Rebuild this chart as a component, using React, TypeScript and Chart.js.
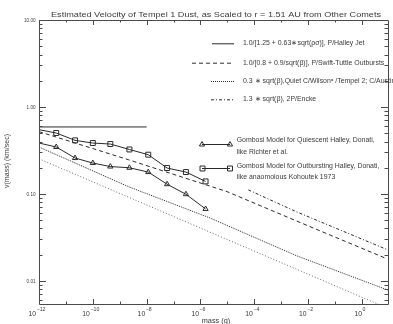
import React, { useEffect, useRef } from 'react';
import { Chart, registerables } from 'chart.js';

Chart.register(...registerables);

const P = (e: number) => Math.pow(10, e);

// axis ranges
const X_MIN = 1e-12;
const X_MAX = P(0.97);
const Y_MIN = 0.0054;
const Y_MAX = 10;

// tick definitions
const yTickValues = [10, 1, 0.1, 0.01];
const yTickLabels = ['10.00', '1.00', '0.10', '0.01'];
const xMajorExponents = [-12, -10, -8, -6, -4, -2, 0];
const xMinorExponents = [-11, -9, -7, -5, -3, -1];

// P/Halley jet (solid)
const jetMass = [1e-12, 1e-8];
const jetVel = [0.588, 0.588];

// P/Swift-Tuttle outbursts (dashed)
const swiftMass = [1e-12, P(-8.68), P(-5.01), P(-2.45), P(0.91)];
const swiftVel = [0.519, 0.247, 0.106, 0.049, 0.018];

// Quiet C/Wilson (dotted, dense)
const quietMass = [1e-12, P(-8.68), P(-5.63), P(-2.45), P(0.97)];
const quietVel = [0.346, 0.121, 0.0525, 0.0195, 0.0078];

// second dotted line (light)
const quiet2Mass = [1e-12, P(0.97)];
const quiet2Vel = [0.253, 0.0048];

// 2P/Encke (dash-dot)
const enckeMass = [P(-4.22), P(-2.45), P(0.97)];
const enckeVel = [0.111, 0.0625, 0.0226];

// Gombosi models
const gombosiMass = [1e-12, P(-11.36), P(-10.66), P(-10.0), P(-9.35), P(-8.64), P(-7.94), P(-7.24), P(-6.54), P(-5.81)];
const quiescentVel = [0.384, 0.346, 0.258, 0.226, 0.206, 0.1995, 0.178, 0.129, 0.099, 0.067];
const outburstVel = [0.547, 0.501, 0.412, 0.384, 0.374, 0.324, 0.282, 0.198, 0.178, 0.139];

const TITLE = 'Estimated Velocity of Tempel 1 Dust, as Scaled to r = 1.51 AU from Other Comets';
const X_TITLE = 'mass (g)';
const Y_TITLE = 'v(mass) (km/sec)';
const legendLabels = [
  '1.0/[1.25 + 0.63\u2217sqrt(\u03C1\u03C3)], P/Halley Jet',
  '1.0/[0.8 + 0.9/sqrt(\u03B2)], P/Swift-Tuttle Outbursts',
  '0.3 \u2217 sqrt(\u03B2),Quiet C/Wilson\u1D43 /Tempel 2; C/Austin',
  '1.3 \u2217 sqrt(\u03B2), 2P/Encke',
];
const gombosiLabels = [
  ['Gombosi Model for Quiescent Halley, Donati,', 'like Richter et al.'],
  ['Gombosi Model for Outbursting Halley, Donati,', 'like anaomolous Kohoutek 1973'],
];

const FAMILY = '"Liberation Sans", Arial, sans-serif';
const INK = '#3a3a3a';
const LINE = '#2a2a2a';

const zip = (xs: number[], ys: number[]) => xs.map((x, i) => ({ x, y: ys[i] }));

function textW(ctx: CanvasRenderingContext2D, t: string, size: number) {
  ctx.font = `${size}px ${FAMILY}`;
  return ctx.measureText(t).width;
}

function drawText(
  ctx: CanvasRenderingContext2D,
  t: string,
  x: number,
  y: number,
  size: number,
  align: 'left' | 'center' | 'right',
  sx = 1,
) {
  ctx.save();
  ctx.font = `${size}px ${FAMILY}`;
  ctx.textBaseline = 'middle';
  ctx.textAlign = 'left';
  const w = ctx.measureText(t).width * sx;
  const x0 = align === 'left' ? x : align === 'center' ? x - w / 2 : x - w;
  ctx.translate(x0, y);
  ctx.scale(sx, 1);
  ctx.fillStyle = INK;
  ctx.fillText(t, 0, 0);
  ctx.restore();
}

function tri(ctx: CanvasRenderingContext2D, x: number, y: number, r: number) {
  let rad = 0;
  ctx.beginPath();
  ctx.moveTo(x + Math.sin(rad) * r, y - Math.cos(rad) * r);
  rad += (2 * Math.PI) / 3;
  ctx.lineTo(x + Math.sin(rad) * r, y - Math.cos(rad) * r);
  rad += (2 * Math.PI) / 3;
  ctx.lineTo(x + Math.sin(rad) * r, y - Math.cos(rad) * r);
  ctx.closePath();
  ctx.stroke();
}

function sq(ctx: CanvasRenderingContext2D, x: number, y: number, r: number) {
  const s = Math.SQRT1_2 * r;
  ctx.beginPath();
  ctx.rect(x - s, y - s, 2 * s, 2 * s);
  ctx.stroke();
}

const DASH = [4, 3];
const DOT = [1, 1];
const DOT_LIGHT = [1, 2];
const DASHDOT = [3, 2, 1, 2];

const framePlugin = {
  id: 'idlFrame',
  afterDraw(chart: any) {
    const ctx: CanvasRenderingContext2D = chart.ctx;
    const a = chart.chartArea;
    const xs = chart.scales.x;
    const ys = chart.scales.y;
    ctx.save();
    ctx.strokeStyle = '#4a4a4a';
    ctx.lineWidth = 1;
    ctx.setLineDash([]);
    // box
    ctx.beginPath();
    ctx.moveTo(a.left + 0.5, a.top + 0.5);
    ctx.lineTo(a.left + 0.5, a.bottom + 0.5);
    ctx.lineTo(a.right + 0.5, a.bottom + 0.5);
    ctx.moveTo(a.left + 0.5, a.top + 0.5);
    ctx.lineTo(a.right + 0.5, a.top + 0.5);
    ctx.lineTo(a.right + 0.5, a.bottom + 0.5);
    ctx.stroke();

    // y ticks
    ctx.beginPath();
    for (let d = -3; d <= 1; d++) {
      for (let k = 1; k <= 9; k++) {
        const v = k * Math.pow(10, d);
        if (v < Y_MIN * 0.999 || v > Y_MAX * 1.001) continue;
        const py = Math.round(ys.getPixelForValue(v)) + 0.5;
        const len = k === 1 ? 7 : 3.5;
        ctx.moveTo(a.left, py);
        ctx.lineTo(a.left + len, py);
        ctx.moveTo(a.right, py);
        ctx.lineTo(a.right - len, py);
      }
    }
    // x ticks
    const xt = (e: number, len: number) => {
      const px = Math.round(xs.getPixelForValue(Math.pow(10, e))) + 0.5;
      ctx.moveTo(px, a.bottom);
      ctx.lineTo(px, a.bottom - len);
      ctx.moveTo(px, a.top);
      ctx.lineTo(px, a.top + len);
    };
    xMajorExponents.forEach((e) => xt(e, 5));
    xMinorExponents.forEach((e) => xt(e, 2.5));
    ctx.stroke();

    // y tick labels
    const ySx = 11.5 / textW(ctx, '10.00', 5.8);
    yTickValues.forEach((v, i) => {
      const py = ys.getPixelForValue(v);
      drawText(ctx, yTickLabels[i], 35.5, py + 0.5, 5.8, 'right', ySx);
    });

    // x tick labels with superscripts
    xMajorExponents.forEach((e) => {
      const px = xs.getPixelForValue(Math.pow(10, e)) - 2;
      const base = '10';
      const sup = e === 0 ? '0' : '\u2212' + String(-e);
      const bw = textW(ctx, base, 6.8);
      const sw = textW(ctx, sup, 5.2);
      const tot = bw + 0.6 + sw;
      const x0 = px - tot / 2;
      drawText(ctx, base, x0, 314.5, 6.8, 'left');
      drawText(ctx, sup, x0 + bw + 0.6, 310, 5.2, 'left');
    });

    // titles
    const tSx = 330 / textW(ctx, TITLE, 7.2);
    drawText(ctx, TITLE, 216, 15.5, 7.2, 'center', tSx);
    const mSx = 28.5 / textW(ctx, X_TITLE, 7);
    drawText(ctx, X_TITLE, 216, 321.5, 7, 'center', mSx);
    ctx.save();
    ctx.translate(7.5, 161);
    ctx.rotate(-Math.PI / 2);
    const vSx = 54 / textW(ctx, Y_TITLE, 6.8);
    drawText(ctx, Y_TITLE, 0, 0, 6.8, 'center', vSx);
    ctx.restore();

    // legend
    const lSize = 6.8;
    const lSx = 138 / textW(ctx, gombosiLabels[0][0], lSize);
    ctx.strokeStyle = LINE;
    const sample = (x1: number, x2: number, y: number, dash: number[]) => {
      ctx.setLineDash(dash);
      ctx.beginPath();
      ctx.moveTo(x1, y + 0.5);
      ctx.lineTo(x2, y + 0.5);
      ctx.stroke();
      ctx.setLineDash([]);
    };
    const rows = [43.3, 62.7, 81, 99.3];
    const dashes = [[], DASH, DOT, DASHDOT];
    const starts = [212, 192, 211, 211];
    rows.forEach((y, i) => {
      sample(starts[i], 234, y, dashes[i]);
      drawText(ctx, legendLabels[i], 243, y, lSize, 'left', lSx);
    });
    // gombosi entries
    sample(202, 230, 144, []);
    tri(ctx, 202, 144.5, 3);
    tri(ctx, 230, 144.5, 3);
    drawText(ctx, gombosiLabels[0][0], 236.7, 140, lSize, 'left', lSx);
    drawText(ctx, gombosiLabels[0][1], 236.7, 152.3, lSize, 'left', lSx);
    sample(202, 230, 168, []);
    sq(ctx, 202.5, 168.5, 3.5);
    sq(ctx, 230, 168.5, 3.5);
    drawText(ctx, gombosiLabels[1][0], 236.7, 166.5, lSize, 'left', lSx);
    drawText(ctx, gombosiLabels[1][1], 236.7, 177.5, lSize, 'left', lSx);
    ctx.restore();
  },
};

export default function App() {
  const ref = useRef<HTMLCanvasElement | null>(null);
  useEffect(() => {
    document.body.style.margin = '0';
    const canvas = ref.current;
    if (!canvas) return;
    const base = {
      borderColor: LINE,
      borderWidth: 1,
      pointRadius: 0,
      fill: false,
      tension: 0,
    };
    const chart = new Chart(canvas, {
      type: 'line',
      data: {
        datasets: [
          { ...base, data: zip(jetMass, jetVel) },
          { ...base, data: zip(swiftMass, swiftVel), borderDash: DASH },
          { ...base, data: zip(quietMass, quietVel), borderDash: DOT },
          { ...base, data: zip(quiet2Mass, quiet2Vel), borderDash: DOT_LIGHT, borderColor: '#666' },
          { ...base, data: zip(enckeMass, enckeVel), borderDash: DASHDOT },
          {
            ...base,
            data: zip(gombosiMass, quiescentVel),
            pointStyle: 'triangle',
            pointRadius: gombosiMass.map((_, i) => (i === 0 ? 0 : 3)),
            pointBorderColor: LINE,
            pointBackgroundColor: 'rgba(0,0,0,0)',
            pointBorderWidth: 1,
          },
          {
            ...base,
            data: zip(gombosiMass, outburstVel),
            pointStyle: 'rect',
            pointRadius: gombosiMass.map((_, i) => (i === 0 ? 0 : 3.5)),
            pointBorderColor: LINE,
            pointBackgroundColor: 'rgba(0,0,0,0)',
            pointBorderWidth: 1,
          },
        ],
      } as any,
      options: {
        responsive: false,
        animation: false,
        events: [],
        layout: { padding: { left: 39, top: 20, right: 0, bottom: 20 } },
        plugins: { legend: { display: false }, tooltip: { enabled: false }, title: { display: false } },
        scales: {
          x: { type: 'logarithmic', min: X_MIN, max: X_MAX, display: false },
          y: { type: 'logarithmic', min: Y_MIN, max: Y_MAX, display: false },
        },
      } as any,
      plugins: [framePlugin],
    });
    return () => chart.destroy();
  }, []);
  return <canvas ref={ref} width={393} height={324} style={{ display: 'block', background: '#fff' }} />;
}
